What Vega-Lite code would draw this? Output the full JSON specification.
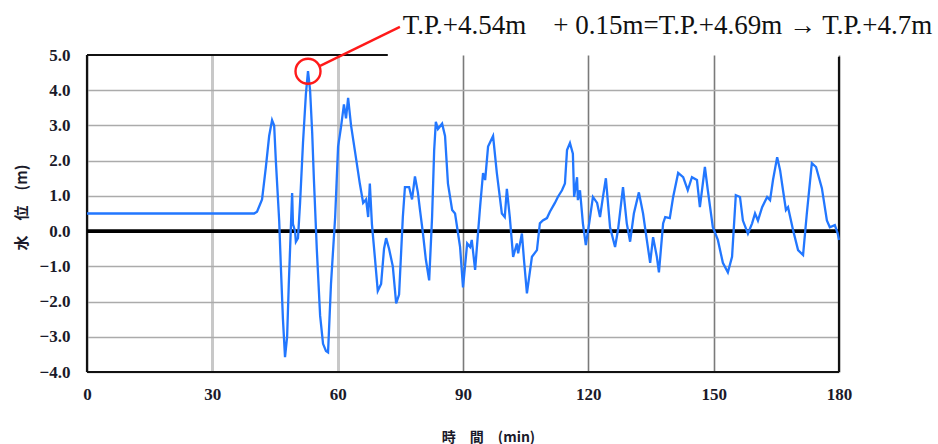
{
  "$schema": "https://vega.github.io/schema/vega-lite/v6.json",
  "width": 752,
  "height": 317,
  "autosize": {"type": "none"},
  "padding": {"left": 87, "top": 55, "right": 99, "bottom": 72},
  "background": "white",
  "config": {"view": {"stroke": null}},
  "encoding": {
    "x": {
      "field": "t", "type": "quantitative",
      "scale": {"domain": [0, 180], "nice": false, "zero": false},
      "axis": {
        "values": [0, 30, 60, 90, 120, 150, 180],
        "grid": true,
        "gridColor": {"condition": {"test": "datum.value === 30 || datum.value === 60", "value": "#c8c8c8"}, "value": "#7a7a7a"},
        "gridWidth": {"condition": {"test": "datum.value === 30 || datum.value === 60", "value": 3}, "value": 1.6},
        "domain": false, "ticks": false,
        "labelFlush": false, "labelOverlap": false, "labelPadding": 14,
        "labelFont": "Liberation Sans Narrow", "labelFontSize": 17, "labelFontWeight": "bold", "labelColor": "#1a1a2a",
        "title": "時　間　(min)",
        "titleFont": "Noto Sans CJK JP", "titleFontSize": 14, "titleFontWeight": "bold", "titleColor": "#1a1a2a",
        "titleX": 401, "titleY": 65, "titleAlign": "center", "titleBaseline": "middle"
      }
    },
    "y": {
      "field": "level", "type": "quantitative",
      "scale": {"domain": [-4, 5], "nice": false, "zero": false},
      "axis": {
        "values": [-4, -3, -2, -1, 0, 1, 2, 3, 4, 5],
        "format": ".1f",
        "grid": true,
        "gridColor": "#ababab",
        "gridWidth": 1.6,
        "gridOpacity": {"condition": {"test": "datum.value === 5", "value": 0}, "value": 1},
        "domain": false, "ticks": false,
        "labelOverlap": false, "labelPadding": 17,
        "labelFont": "Liberation Sans Narrow", "labelFontSize": 17, "labelFontWeight": "bold", "labelColor": "#1a1a2a",
        "title": "水　位　(m)",
        "titleFont": "Noto Sans CJK JP", "titleFontSize": 15, "titleFontWeight": "bold", "titleColor": "#1a1a2a",
        "titleAngle": -90, "titleX": -66, "titleY": 152, "titleAlign": "center", "titleBaseline": "middle"
      }
    }
  },
  "layer": [
    {
      "data": {"values": [
        {"t": 0, "level": -4, "t2": 180, "level2": -4, "part": "bottom"},
        {"t": 0, "level": -4, "t2": 0, "level2": 5, "part": "left"},
        {"t": 180, "level": -4, "t2": 180, "level2": 4.95, "part": "right"},
        {"t": 0, "level": 5, "t2": 72, "level2": 5, "part": "top"}
      ]},
      "mark": {"type": "rule", "color": "#111111", "strokeWidth": 2.2},
      "encoding": {"x2": {"field": "t2"}, "y2": {"field": "level2"}}
    },
    {
      "data": {"values": [{"t": 0, "level": 0, "t2": 180, "level2": 0}]},
      "mark": {"type": "rule", "color": "#000000", "strokeWidth": 3.6},
      "encoding": {"x2": {"field": "t2"}, "y2": {"field": "level2"}}
    },
    {
      "data": {"values": [
        {"t": 0, "level": 0.5}, {"t": 40.0, "level": 0.5}, {"t": 40.7, "level": 0.55}, {"t": 41.9, "level": 0.9},
        {"t": 42.8, "level": 1.8}, {"t": 43.6, "level": 2.7}, {"t": 44.3, "level": 3.15}, {"t": 44.8, "level": 3.0},
        {"t": 45.2, "level": 2.0}, {"t": 46.0, "level": 0.3}, {"t": 46.4, "level": -1.0}, {"t": 46.9, "level": -2.5},
        {"t": 47.4, "level": -3.58}, {"t": 47.9, "level": -3.0}, {"t": 48.3, "level": -1.5}, {"t": 48.6, "level": -0.54},
        {"t": 49.1, "level": 1.08}, {"t": 49.3, "level": 0.2}, {"t": 49.8, "level": 0.0}, {"t": 50.0, "level": -0.3},
        {"t": 50.5, "level": -0.2}, {"t": 51.0, "level": 0.8}, {"t": 51.7, "level": 2.5}, {"t": 52.4, "level": 3.9},
        {"t": 52.9, "level": 4.54}, {"t": 53.4, "level": 4.0}, {"t": 53.9, "level": 2.8}, {"t": 54.3, "level": 1.5},
        {"t": 55.0, "level": -0.5}, {"t": 55.8, "level": -2.4}, {"t": 56.5, "level": -3.2}, {"t": 57.2, "level": -3.4},
        {"t": 57.7, "level": -3.44}, {"t": 58.4, "level": -1.5}, {"t": 59.4, "level": 0.4}, {"t": 60.1, "level": 2.4},
        {"t": 60.8, "level": 2.95}, {"t": 61.5, "level": 3.6}, {"t": 62.0, "level": 3.2}, {"t": 62.5, "level": 3.78},
        {"t": 63.2, "level": 3.0}, {"t": 64.1, "level": 2.3}, {"t": 65.3, "level": 1.35}, {"t": 66.1, "level": 0.8},
        {"t": 66.8, "level": 0.9}, {"t": 67.3, "level": 0.4}, {"t": 67.7, "level": 1.35}, {"t": 68.2, "level": 0.2},
        {"t": 68.9, "level": -0.74}, {"t": 69.6, "level": -1.7}, {"t": 70.4, "level": -1.5}, {"t": 71.1, "level": -0.5},
        {"t": 71.6, "level": -0.2}, {"t": 72.3, "level": -0.5}, {"t": 73.2, "level": -1.0}, {"t": 74.0, "level": -2.05},
        {"t": 74.7, "level": -1.8}, {"t": 75.6, "level": 0.4}, {"t": 76.1, "level": 1.25}, {"t": 77.1, "level": 1.25},
        {"t": 77.8, "level": 0.9}, {"t": 78.5, "level": 1.55}, {"t": 79.2, "level": 1.1}, {"t": 79.7, "level": 0.6},
        {"t": 80.4, "level": -0.05}, {"t": 81.1, "level": -0.8}, {"t": 81.9, "level": -1.4}, {"t": 82.6, "level": 0.4},
        {"t": 83.1, "level": 2.3}, {"t": 83.5, "level": 3.1}, {"t": 84.0, "level": 2.9}, {"t": 85.0, "level": 3.05},
        {"t": 85.7, "level": 2.7}, {"t": 86.4, "level": 1.35}, {"t": 87.4, "level": 0.6}, {"t": 88.1, "level": 0.5},
        {"t": 89.3, "level": -0.45}, {"t": 90.0, "level": -1.6}, {"t": 91.0, "level": -0.35}, {"t": 91.7, "level": -0.45},
        {"t": 92.1, "level": -0.25}, {"t": 92.9, "level": -1.1}, {"t": 94.1, "level": 0.7}, {"t": 94.8, "level": 1.65},
        {"t": 95.3, "level": 1.45}, {"t": 96.0, "level": 2.4}, {"t": 97.2, "level": 2.7}, {"t": 98.1, "level": 1.65},
        {"t": 99.3, "level": 0.5}, {"t": 100.0, "level": 0.4}, {"t": 100.5, "level": 1.2}, {"t": 101.2, "level": 0.4},
        {"t": 102.0, "level": -0.73}, {"t": 102.9, "level": -0.35}, {"t": 103.2, "level": -0.63}, {"t": 104.1, "level": -0.07},
        {"t": 104.6, "level": -0.82}, {"t": 105.3, "level": -1.77}, {"t": 106.5, "level": -0.73}, {"t": 107.7, "level": -0.54},
        {"t": 108.4, "level": 0.22}, {"t": 109.1, "level": 0.3}, {"t": 110.1, "level": 0.37}, {"t": 110.8, "level": 0.55},
        {"t": 112.0, "level": 0.8}, {"t": 112.7, "level": 0.97}, {"t": 113.7, "level": 1.16}, {"t": 114.4, "level": 1.35},
        {"t": 114.9, "level": 2.3}, {"t": 115.6, "level": 2.5}, {"t": 116.3, "level": 2.2}, {"t": 116.6, "level": 0.97},
        {"t": 117.3, "level": 1.53}, {"t": 117.5, "level": 0.88}, {"t": 118.0, "level": 1.16}, {"t": 118.7, "level": 0.22},
        {"t": 119.4, "level": -0.4}, {"t": 120.2, "level": 0.22}, {"t": 121.1, "level": 0.97}, {"t": 122.1, "level": 0.8},
        {"t": 122.8, "level": 0.4}, {"t": 123.5, "level": 0.97}, {"t": 124.2, "level": 1.5}, {"t": 125.2, "level": 0.11},
        {"t": 126.4, "level": -0.45}, {"t": 127.1, "level": 0.03}, {"t": 128.3, "level": 1.25}, {"t": 129.2, "level": 0.22},
        {"t": 130.0, "level": -0.3}, {"t": 130.9, "level": 0.5}, {"t": 132.1, "level": 1.1}, {"t": 133.1, "level": 0.5},
        {"t": 134.0, "level": -0.25}, {"t": 134.8, "level": -0.9}, {"t": 135.5, "level": -0.17}, {"t": 136.4, "level": -0.73},
        {"t": 136.9, "level": -1.17}, {"t": 137.9, "level": 0.22}, {"t": 138.4, "level": 0.4}, {"t": 139.5, "level": 0.37},
        {"t": 140.3, "level": 0.97}, {"t": 141.5, "level": 1.65}, {"t": 142.7, "level": 1.53}, {"t": 143.8, "level": 1.16},
        {"t": 144.8, "level": 1.53}, {"t": 146.0, "level": 1.45}, {"t": 146.7, "level": 0.68}, {"t": 147.9, "level": 1.82},
        {"t": 148.6, "level": 1.16}, {"t": 149.8, "level": 0.11}, {"t": 151.0, "level": -0.25}, {"t": 152.2, "level": -0.9},
        {"t": 153.4, "level": -1.17}, {"t": 154.4, "level": -0.73}, {"t": 155.3, "level": 1.02}, {"t": 156.3, "level": 0.97},
        {"t": 157.0, "level": 0.3}, {"t": 158.2, "level": -0.07}, {"t": 159.2, "level": 0.22}, {"t": 159.9, "level": 0.5},
        {"t": 160.6, "level": 0.3}, {"t": 161.6, "level": 0.68}, {"t": 162.8, "level": 0.97}, {"t": 163.5, "level": 0.88},
        {"t": 164.2, "level": 1.45}, {"t": 165.2, "level": 2.1}, {"t": 165.9, "level": 1.73}, {"t": 166.6, "level": 1.16},
        {"t": 167.3, "level": 0.6}, {"t": 167.8, "level": 0.68}, {"t": 169.0, "level": 0.03}, {"t": 170.2, "level": -0.54},
        {"t": 171.4, "level": -0.68}, {"t": 172.3, "level": 0.5}, {"t": 173.5, "level": 1.93}, {"t": 174.5, "level": 1.82},
        {"t": 175.9, "level": 1.22}, {"t": 177.1, "level": 0.3}, {"t": 177.8, "level": 0.11}, {"t": 179.0, "level": 0.17},
        {"t": 179.7, "level": -0.07}, {"t": 180.0, "level": -0.25}
      ]},
      "mark": {"type": "line", "color": "#2277ff", "strokeWidth": 2.3}
    },
    {
      "data": {"values": [{"t": 55.8, "level": 4.69, "t2": 74.9, "level2": 5.8}]},
      "mark": {"type": "rule", "color": "#ff1a1a", "strokeWidth": 2.4},
      "encoding": {"x2": {"field": "t2"}, "y2": {"field": "level2"}}
    },
    {
      "data": {"values": [{"t": 52.9, "level": 4.54}]},
      "mark": {"type": "point", "shape": "circle", "size": 625, "filled": false, "color": "#ff1a1a", "strokeWidth": 2.4, "opacity": 1}
    },
    {
      "data": {"values": [{"t": 75.6, "level": 5.6, "note": "T.P.+4.54m\u2003+ 0.15m=T.P.+4.69m → T.P.+4.7m"}]},
      "mark": {"type": "text", "align": "left", "baseline": "alphabetic", "font": "Liberation Serif", "fontSize": 27, "color": "#111111"},
      "encoding": {"text": {"field": "note"}}
    }
  ]
}
